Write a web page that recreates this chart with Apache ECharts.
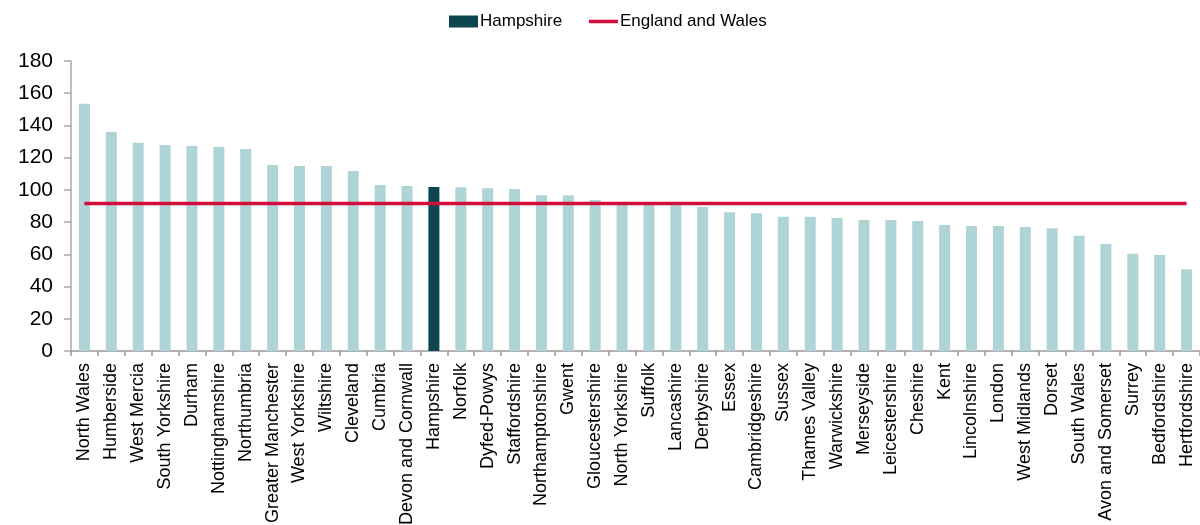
<!DOCTYPE html>
<html>
<head>
<meta charset="utf-8">
<script src="https://cdn.jsdelivr.net/npm/echarts@6/dist/echarts.min.js"></script>
<style>html,body{margin:0;padding:0;background:#fff}#c{width:1200px;height:525px}</style>
</head>
<body>
<div id="c"></div>
<script>
const categories = ["North Wales","Humberside","West Mercia","South Yorkshire","Durham","Nottinghamshire","Northumbria","Greater Manchester","West Yorkshire","Wiltshire","Cleveland","Cumbria","Devon and Cornwall","Hampshire","Norfolk","Dyfed-Powys","Staffordshire","Northamptonshire","Gwent","Gloucestershire","North Yorkshire","Suffolk","Lancashire","Derbyshire","Essex","Cambridgeshire","Sussex","Thames Valley","Warwickshire","Merseyside","Leicestershire","Cheshire","Kent","Lincolnshire","London","West Midlands","Dorset","South Wales","Avon and Somerset","Surrey","Bedfordshire","Hertfordshire"];
const values = [153.5,135.9,129.3,127.9,127.3,126.6,125.4,115.5,114.8,114.8,111.7,103.0,102.4,101.8,101.6,101.0,100.5,96.6,96.6,93.7,91.0,90.8,90.5,89.4,86.1,85.5,83.4,83.4,82.6,81.3,81.3,80.7,78.2,77.6,77.6,77.0,76.2,71.6,66.4,60.4,59.6,50.7];
const highlight = "Hampshire";
const englandWalesValue = 91.5;
const yTicks = {min: 0, max: 180, interval: 20};

const lightColor = "#afd4d6";
const darkColor = "#0d4651";
const redColor = "#d20f3a";

const barData = categories.map((c, i) => ({
  value: values[i],
  itemStyle: { color: c === highlight ? darkColor : lightColor }
}));
const lineData = categories.map(() => englandWalesValue);

const chart = echarts.init(document.getElementById('c'));
chart.setOption({
  animation: false,
  textStyle: { fontFamily: 'Liberation Sans, Arial, sans-serif' },
  legend: {
    left: 449, top: 13, padding: 0,
    itemWidth: 29, itemHeight: 12, itemGap: 25,
    textStyle: { fontSize: 17, color: '#000', padding: [0,0,0,-3] },
    data: [
      { name: 'Hampshire', icon: 'rect' },
      { name: 'England and Wales', itemStyle: { opacity: 0 }, lineStyle: { width: 3.5, color: redColor } }
    ]
  },
  grid: { left: 71, right: 0, top: 61, bottom: 174, containLabel: false, outerBoundsMode: 'none' },
  xAxis: {
    type: 'category',
    data: categories,
    axisLine: { lineStyle: { color: '#999', width: 1.5 } },
    axisTick: { show: true, length: 5, lineStyle: { color: '#999', width: 1.5 } },
    axisLabel: { rotate: 90, interval: 0, fontSize: 18, color: '#000', margin: 12 }
  },
  yAxis: {
    type: 'value',
    min: yTicks.min, max: yTicks.max, interval: yTicks.interval,
    splitLine: { show: false },
    axisLine: { show: true, lineStyle: { color: '#aaa', width: 1.5 } },
    axisTick: { show: true, length: 7, lineStyle: { color: '#aaa', width: 1.5 } },
    axisLabel: { fontSize: 21, color: '#000', margin: 18 }
  },
  series: [
    {
      name: 'Hampshire', type: 'bar', data: barData, barWidth: 11,
      itemStyle: { color: darkColor }
    },
    {
      name: 'England and Wales', type: 'line', data: lineData,
      symbol: 'none', showSymbol: false,
      lineStyle: { color: redColor, width: 3.5 },
      itemStyle: { color: redColor },
      z: 5
    }
  ]
});
</script>
</body>
</html>
